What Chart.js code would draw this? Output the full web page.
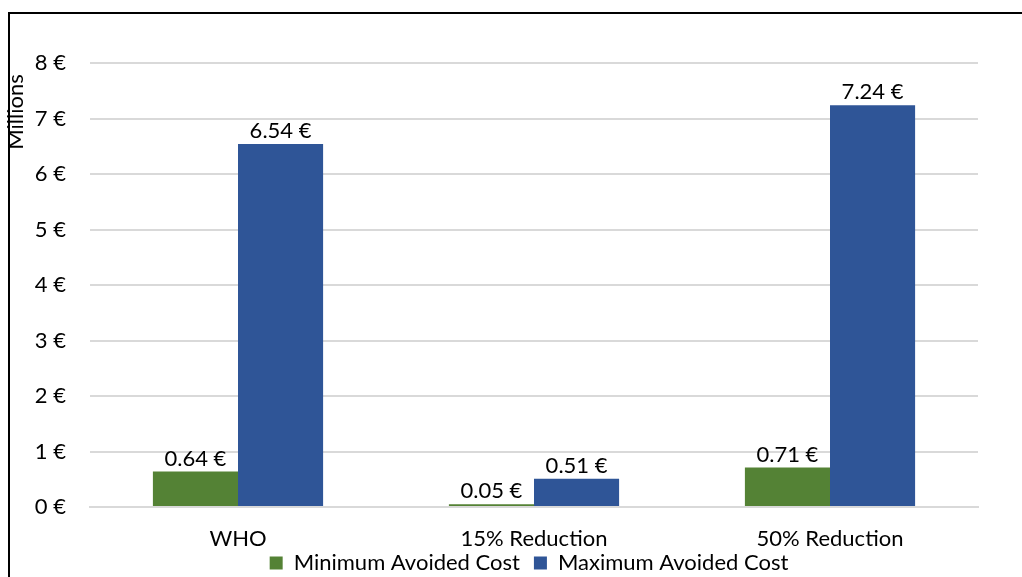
<!DOCTYPE html>
<html>
<head>
<meta charset="utf-8">
<script src="https://cdn.jsdelivr.net/npm/chart.js@4"></script>
<style>
  html, body { margin: 0; padding: 0; background: #fff; }
  #wrap { position: relative; width: 1022px; height: 577px; overflow: hidden; }
  #frame { position: absolute; left: 8px; top: 12px; width: 1100px; height: 700px;
           border-left: 2px solid #000; border-top: 2px solid #000; }
  canvas { position: absolute; left: 0; top: 0; }
</style>
</head>
<body>
<div id="wrap">
  <div id="frame"></div>
  <canvas id="chart" width="1022" height="577"></canvas>
</div>
<script>
// categories and values (millions of euros)
const categories = ['WHO', '15% Reduction', '50% Reduction'];
const minAvoided = [0.64, 0.05, 0.71];
const maxAvoided = [6.54, 0.51, 7.24];
const seriesNames = ['Minimum Avoided Cost', 'Maximum Avoided Cost'];
const yTicks = [0, 1, 2, 3, 4, 5, 6, 7, 8];
const yTitle = 'Millions';

const FONT = 'Lato, "Open Sans", sans-serif';
const SIZE = 22;

// labels above each bar + rotated axis title
const barLabels = {
    id: 'barLabels',
    afterDatasetsDraw(chart) {
        const ctx = chart.ctx;
        ctx.save();
        ctx.font = SIZE + 'px ' + FONT;
        ctx.fillStyle = '#000';
        ctx.textAlign = 'center';
        ctx.textBaseline = 'bottom';
        chart.data.datasets.forEach((ds, i) => {
            chart.getDatasetMeta(i).data.forEach((bar, j) => {
                ctx.fillText(ds.data[j].toFixed(2) + ' €', bar.x, bar.y - 2);
            });
        });
        ctx.translate(16, 112);
        ctx.rotate(-Math.PI / 2);
        ctx.textBaseline = 'middle';
        ctx.fillText(yTitle, 0, 0);
        ctx.restore();
    }
};

// tick labels are allowed to spill out of their axis box
const noLabelClip = scale => { scale._computeLabelArea = () => undefined; };

new Chart(document.getElementById('chart'), {
    type: 'bar',
    data: {
        labels: categories,
        datasets: [
            {
                label: seriesNames[0],
                data: minAvoided,
                backgroundColor: '#548235',
                categoryPercentage: 0.575,
                barPercentage: 1
            },
            {
                label: seriesNames[1],
                data: maxAvoided,
                backgroundColor: '#2F5597',
                categoryPercentage: 0.575,
                barPercentage: 1
            }
        ]
    },
    options: {
        responsive: false,
        animation: false,
        layout: { padding: { top: 63, right: 44, left: 80, bottom: -7 } },
        plugins: {
            legend: {
                position: 'bottom',
                labels: {
                    font: { family: FONT, size: SIZE },
                    color: '#000',
                    boxWidth: 13,
                    boxHeight: 13,
                    padding: 14
                }
            },
            tooltip: { enabled: false }
        },
        scales: {
            x: {
                afterFit(scale) { scale.height = 31; noLabelClip(scale); },
                grid: { display: false, drawTicks: false },
                border: { color: '#d9d9d9', width: 2 },
                ticks: { font: { family: FONT, size: SIZE }, color: '#000', padding: 19 }
            },
            y: {
                min: 0,
                max: 8,
                afterBuildTicks(scale) { scale.ticks = yTicks.map(v => ({ value: v })); },
                afterFit(scale) { scale.width = 10; noLabelClip(scale); },
                grid: { color: '#d9d9d9', lineWidth: 2, drawTicks: false },
                border: { display: false },
                ticks: {
                    font: { family: FONT, size: SIZE },
                    color: '#000',
                    padding: 24,
                    callback: v => v + ' €'
                }
            }
        }
    },
    plugins: [barLabels]
});
</script>
</body>
</html>
